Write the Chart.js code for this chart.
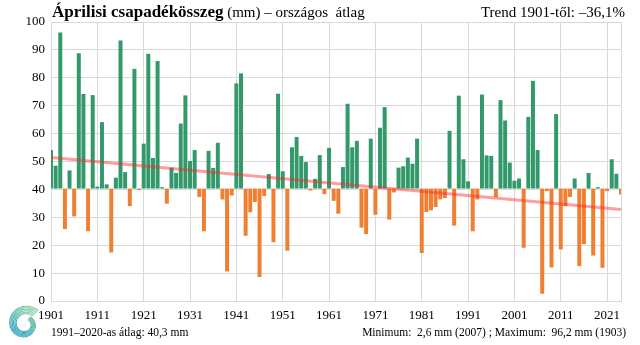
<!DOCTYPE html>
<html><head><meta charset="utf-8">
<script src="https://cdn.jsdelivr.net/npm/chart.js@4"></script>
<style>
html,body{margin:0;padding:0;background:#fff;}
#wrap{position:relative;width:640px;height:345px;overflow:hidden;font-family:"Liberation Serif","Times New Roman",serif;color:#000;}
#c{position:absolute;left:0;top:0;}
.t{position:absolute;white-space:nowrap;line-height:1;}
#logo{position:absolute;left:3px;top:302px;}
</style></head><body>
<div id="wrap">
<canvas id="c" width="640" height="345"></canvas>
<div class="t" style="left:52px;top:3px;"><span style="font-weight:bold;font-size:17px">Áprilisi csapadékösszeg</span><span style="font-size:15px"> (mm) – országos&nbsp; átlag</span></div>
<div class="t" style="right:15px;top:5px;font-size:15px">Trend 1901-től: –36,1%</div>
<div class="t" style="left:51px;top:327px;font-size:11.5px">1991–2020-as átlag: 40,3 mm</div>
<div class="t" style="right:14px;top:327px;font-size:11.5px">Minimum:&nbsp; 2,6 mm (2007) ; Maximum:&nbsp; 96,2 mm (1903)</div>
<svg id="logo" width="44" height="43" viewBox="0 0 44 43"></svg>
</div>
<script>
// ---- data ----
const START_YEAR = 1901;
const END_YEAR = 2024;
const AVERAGE = 40.3; // 1991–2020 average, bars start here
const values = [
  54.1, 48.5, 96.2, 25.8, 46.8, 30.3, 88.8, 74.2, 25.0, 73.8, // 1901-1910
  41.0, 64.1, 41.8, 17.4, 44.2, 93.4, 46.2, 34.0, 83.2, 39.8, // 1911-1920
  56.4, 88.6, 51.3, 86.0, 40.8, 34.9, 47.8, 45.9, 63.6, 73.7, // 1921-1930
  50.2, 54.1, 37.3, 25.0, 53.8, 47.7, 56.7, 36.4, 10.6, 37.8, // 1931-1940
  78.0, 81.6, 23.4, 31.8, 35.5, 8.6, 37.6, 45.5, 21.1, 74.3,  // 1941-1950
  46.5, 18.0, 55.1, 58.8, 52.0, 49.8, 39.6, 43.8, 52.3, 38.3, // 1951-1960
  54.9, 35.9, 31.3, 48.0, 70.7, 55.1, 57.4, 26.3, 24.0, 58.2, // 1961-1970
  30.9, 62.1, 69.5, 29.2, 38.9, 47.8, 48.3, 51.4, 49.2, 58.2, // 1971-1980
  17.2, 31.9, 32.5, 33.7, 36.4, 36.9, 61.0, 27.0, 73.6, 50.8, // 1981-1990
  42.9, 25.0, 36.4, 74.0, 52.2, 52.0, 37.2, 72.0, 64.7, 49.6, // 1991-2000
  43.1, 43.9, 19.1, 66.0, 78.9, 54.1, 2.6, 39.4, 12.0, 67.0,  // 2001-2010
  18.5, 34.0, 37.3, 43.9, 12.5, 20.4, 45.9, 16.3, 40.8, 11.9, // 2011-2020
  39.4, 50.8, 45.6, 38.2                                      // 2021-2024
];
const trendEnds = [51.4, 32.8]; // trend line value at first and last year
const years = [];
for (let y = START_YEAR; y <= END_YEAR; y++) years.push(String(y));

// ---- styles ----
const GREEN = '#33996a';
const ORANGE = '#ef7f32';
const GRID = '#d9d9d9';
const FONT = '"Liberation Serif","Times New Roman",serif';

const trendData = years.map((_, i) => i === 0 ? trendEnds[0] : (i === years.length - 1 ? trendEnds[1] : null));

new Chart(document.getElementById('c'), {
  data: {
    labels: years,
    datasets: [
      {
        type: 'line', data: trendData, spanGaps: true,
        borderColor: 'rgba(255,40,40,0.45)', borderWidth: 3,
        pointRadius: 0, order: 0
      },
      {
        type: 'bar', data: values.map(v => [AVERAGE, v]),
        backgroundColor: values.map(v => v >= AVERAGE ? GREEN : ORANGE),
        borderWidth: 0, barPercentage: 0.86, categoryPercentage: 1,
        clip: 0, order: 1
      }
    ]
  },
  options: {
    responsive: false, animation: false, devicePixelRatio: 1,
    layout: { padding: { left: 0, right: 19, top: 22, bottom: 22 } },
    plugins: { legend: { display: false }, tooltip: { enabled: false } },
    scales: {
      x: {
        type: 'category', offset: false,
        grid: {
          offset: false, drawTicks: false,
          color: c => (c.index % 10 === 0 || c.index === years.length - 1) ? GRID : 'rgba(0,0,0,0)'
        },
        border: { color: GRID },
        ticks: {
          autoSkip: false, maxRotation: 0, minRotation: 0, padding: 7,
          color: '#000', font: { family: FONT, size: 13 },
          callback: (v, i) => i % 10 === 0 ? years[i] : ''
        },
        afterFit: s => { s.height = 22; s.paddingLeft = 0; s.paddingRight = 0; }
      },
      y: {
        min: 0, max: 100,
        grid: { drawTicks: false, color: GRID },
        border: { color: GRID },
        ticks: { stepSize: 10, padding: 6, color: '#000', font: { family: FONT, size: 13 } },
        afterFit: s => { s.width = 51; s.paddingTop = 0; s.paddingBottom = 0; }
      }
    }
  }
});

// ---- decorative logo (spiral) ----
(function () {
  const svg = document.getElementById('logo');
  const ns = 'http://www.w3.org/2000/svg';
  const defs = document.createElementNS(ns, 'defs');
  defs.innerHTML = '<linearGradient id="g" x1="0" y1="1" x2="1" y2="0"><stop offset="0" stop-color="#2c9fc4"/><stop offset="1" stop-color="#8fd3a0"/></linearGradient>';
  svg.appendChild(defs);
  const cx = 22, cy = 22;
  for (let k = 0; k < 6; k++) {
    let d = '';
    for (let t = 0; t <= 1; t += 0.02) {
      const th = 0.25 * Math.PI + t * 2.1 * Math.PI;
      const r = (19 - k * 1.6) * (1 - 0.55 * t);
      const x = cx + r * Math.cos(th), y = cy - r * Math.sin(th);
      d += (t === 0 ? 'M' : 'L') + x.toFixed(2) + ' ' + y.toFixed(2) + ' ';
    }
    const p = document.createElementNS(ns, 'path');
    p.setAttribute('d', d);
    p.setAttribute('fill', 'none');
    p.setAttribute('stroke', 'url(#g)');
    p.setAttribute('stroke-width', '1.1');
    svg.appendChild(p);
  }
})();
</script>
</body></html>
